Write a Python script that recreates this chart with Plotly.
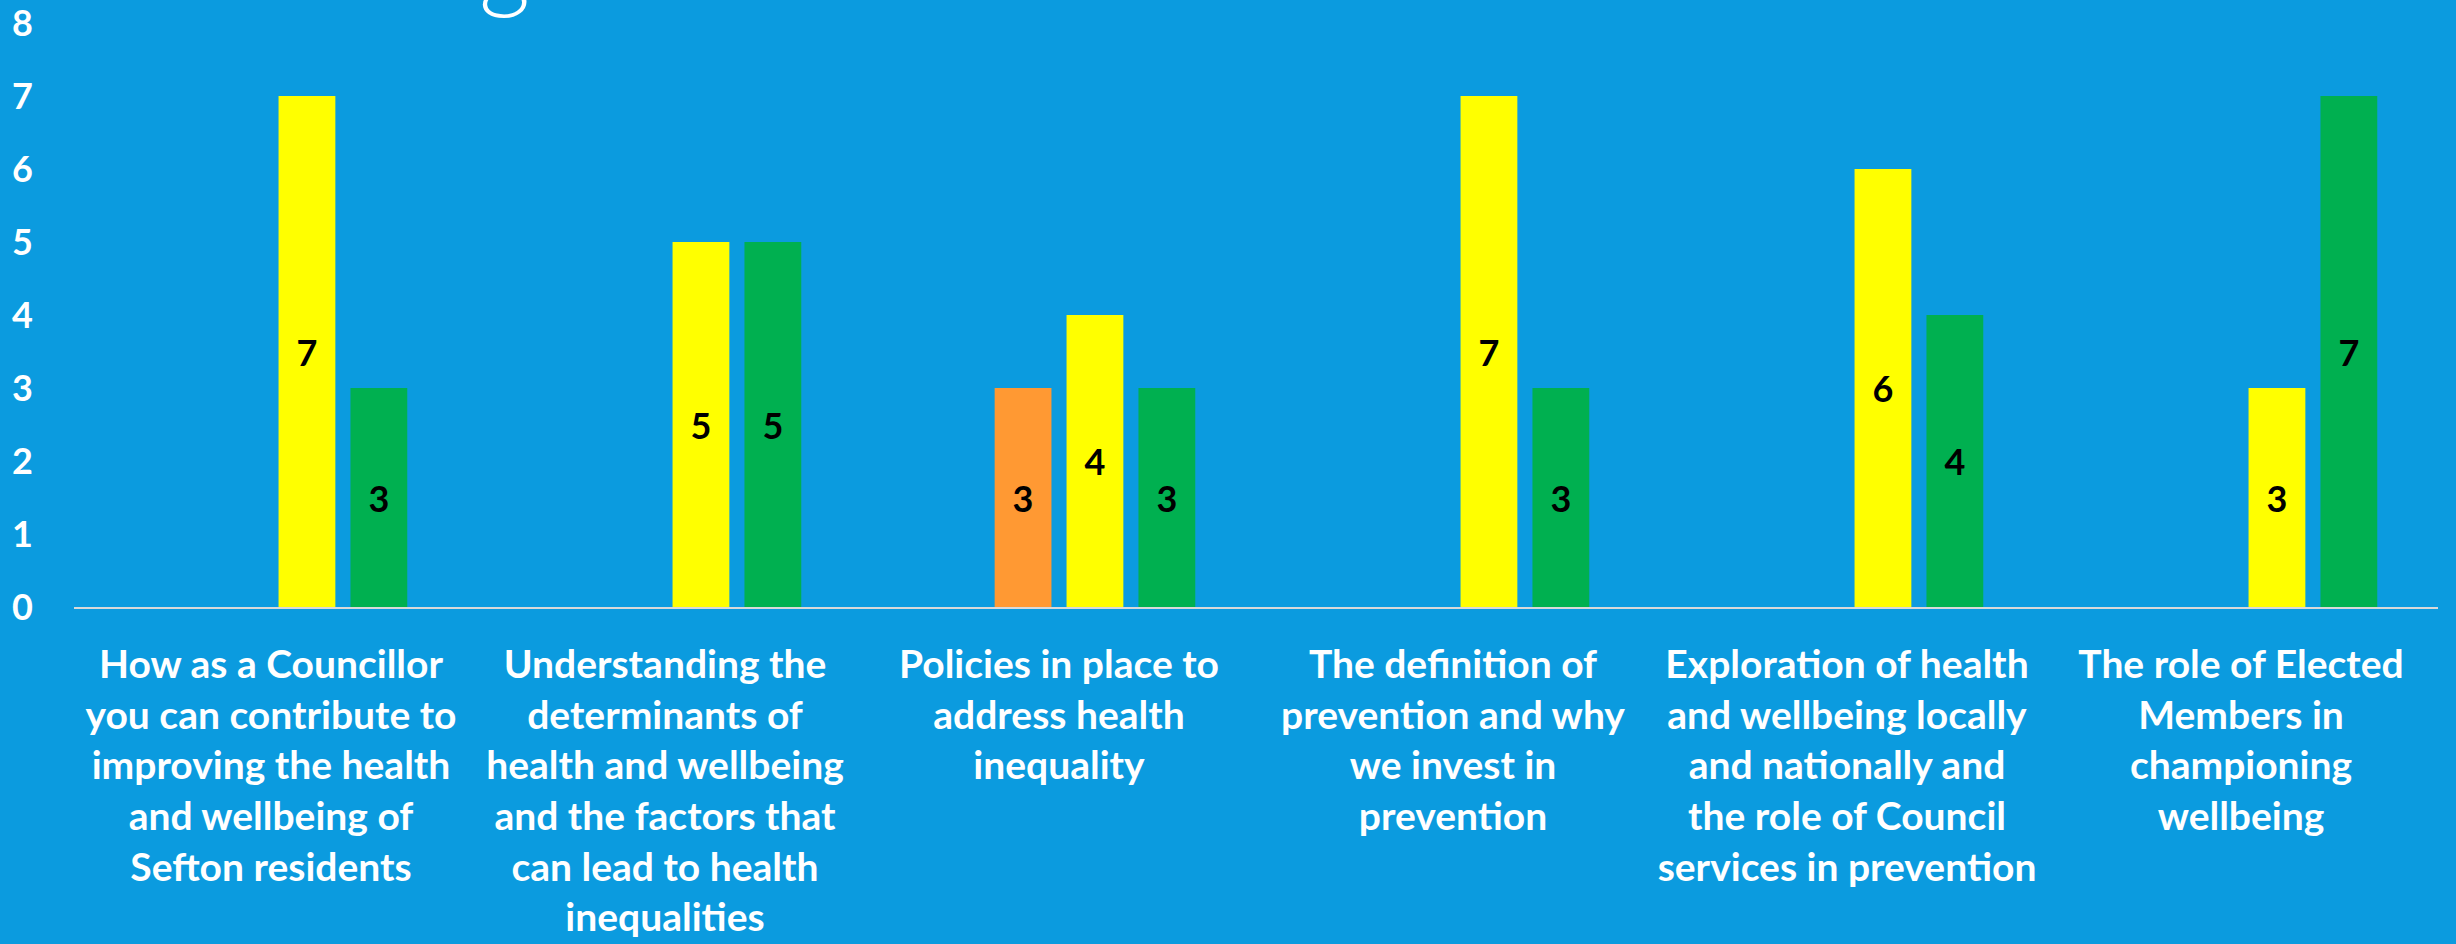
import plotly.graph_objects as go

categories = [
    "How as a Councillor you can contribute to improving the health and wellbeing of Sefton residents",
    "Understanding the determinants of health and wellbeing and the factors that can lead to health inequalities",
    "Policies in place to address health inequality",
    "The definition of prevention and why we invest in prevention",
    "Exploration of health and wellbeing locally and nationally and the role of Council services in prevention",
    "The role of Elected Members in championing wellbeing",
]
tick_labels = [
    "How as a Councillor<br>you can contribute to<br>improving the health<br>and wellbeing of<br>Sefton residents",
    "Understanding the<br>determinants of<br>health and wellbeing<br>and the factors that<br>can lead to health<br>inequalities",
    "Policies in place to<br>address health<br>inequality",
    "The definition of<br>prevention and why<br>we invest in<br>prevention",
    "Exploration of health<br>and wellbeing locally<br>and nationally and<br>the role of Council<br>services in prevention",
    "The role of Elected<br>Members in<br>championing<br>wellbeing",
]
series_names = ["Rating 1", "Rating 2", "Rating 3", "Rating 4"]
series_red = [0, 0, 0, 0, 0, 0]
series_orange = [0, 0, 3, 0, 0, 0]
series_yellow = [7, 5, 4, 7, 6, 3]
series_green = [3, 5, 3, 3, 4, 7]
y_ticks = [0, 1, 2, 3, 4, 5, 6, 7, 8]
title_fragment = "g"

series_values = [series_red, series_orange, series_yellow, series_green]
series_colors = ["#FF0000", "#FF9933", "#FFFF00", "#00B050"]

FONT = "Lato, Carlito, Calibri, sans-serif"
BG = "#0B9BDF"

fig = go.Figure()
for name, vals, col in zip(series_names, series_values, series_colors):
    fig.add_trace(go.Bar(
        x=categories, y=vals, name=name,
        marker=dict(color=col, line=dict(width=0)),
        text=[str(v) if v else "" for v in vals],
        textposition="inside", insidetextanchor="middle",
        textangle=0, constraintext="none",
        textfont=dict(family=FONT, size=36, color="black", weight="bold"),
        hoverinfo="x+y+name",
    ))

W, H = 2456, 944
ML, MR, MT, MB = 74, 18, 23, 337
ph = H - MT - MB
pw = W - ML - MR

fig.update_layout(
    width=W, height=H,
    margin=dict(l=ML, r=MR, t=MT, b=MB, pad=0, autoexpand=False),
    paper_bgcolor=BG, plot_bgcolor=BG,
    barmode="group", bargap=0.27, bargroupgap=0.21,
    showlegend=False,
    font=dict(family=FONT, color="white"),
    xaxis=dict(
        tickmode="array", tickvals=categories, ticktext=tick_labels,
        tickfont=dict(family=FONT, size=39, color="white", weight="bold"),
        showgrid=False, zeroline=False,
        showline=True, linecolor="#D9D9D9", linewidth=2,
        ticks="", ticklabelstandoff=22,
        tickangle=0, automargin=False,
    ),
    yaxis=dict(
        range=[0, 8], tickmode="array", tickvals=y_ticks,
        tickfont=dict(family=FONT, size=36, color="white", weight="bold"),
        showgrid=False, zeroline=False, showline=False,
        ticks="", ticklabelstandoff=40, ticklabeloverflow="allow",
        automargin=False,
    ),
    annotations=[dict(
        text=title_fragment, xref="paper", yref="paper",
        x=(504 - ML) / pw, y=1 + (MT - 22) / ph,
        xanchor="center", yanchor="bottom", showarrow=False,
        font=dict(family=FONT, size=100, color="white", weight=300),
    )],
)

fig.write_html(
    "out.html",
    config={"displayModeBar": False},
    post_script="document.body.style.margin='0';document.body.style.overflow='hidden';",
)
